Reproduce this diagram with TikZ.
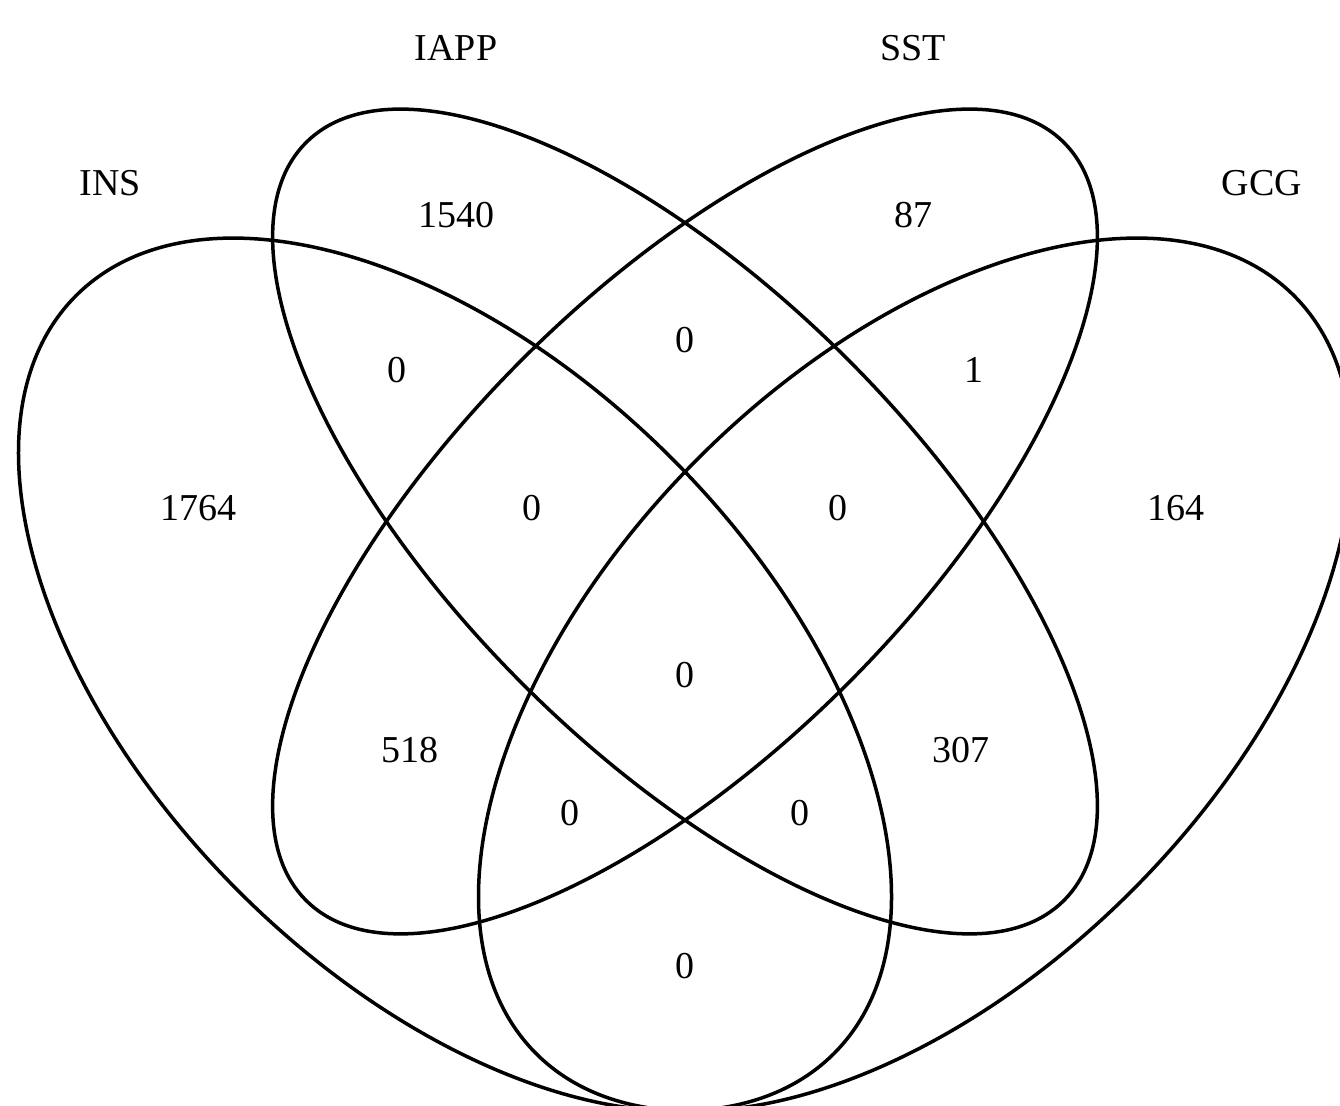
\documentclass[tikz,border=0pt]{standalone}
\usepackage{fontspec}
\setmainfont{Liberation Serif}
\begin{document}
\begin{tikzpicture}[x=1pt,y=1pt,
  setline/.style={line width=3.5pt,black},
  lbl/.style={font=\fontsize{38}{44}\selectfont,inner sep=0pt,anchor=center}]
\useasboundingbox (0,0) rectangle (1340,1105);
\clip (0,0) rectangle (1340,1105);
% centres (tikz y = 1105 - pixel y)
\coordinate (cINS) at (455,430.4);
\coordinate (cIAPP) at (685,583.5);
\coordinate (cSST) at (685,583.5);
\coordinate (cGCG) at (915,430.4);
\draw[setline,rotate around={-45:(cINS)}] (cINS) ellipse [x radius=535.9, y radius=306.2];
\draw[setline,rotate around={-45:(cIAPP)}] (cIAPP) ellipse [x radius=535.9, y radius=229.7];
\draw[setline,rotate around={45:(cSST)}] (cSST) ellipse [x radius=535.9, y radius=229.7];
\draw[setline,rotate around={45:(cGCG)}] (cGCG) ellipse [x radius=535.9, y radius=306.2];
% category labels
\node[lbl] (tINS) at (110,922) {INS};
\node[lbl] (tIAPP) at (456,1057) {IAPP};
\node[lbl] (tSST) at (913,1057) {SST};
\node[lbl] (tGCG) at (1262,922) {GCG};
% region counts
\node[lbl] (a1) at (456,890) {1540};
\node[lbl] (a2) at (685,765) {0};
\node[lbl] (a3) at (913,890) {87};
\node[lbl] (a4) at (198,597) {1764};
\node[lbl] (a5) at (397,735) {0};
\node[lbl] (a6) at (532,597) {0};
\node[lbl] (a7) at (685,430) {0};
\node[lbl] (a8) at (838,597) {0};
\node[lbl] (a9) at (974,735) {1};
\node[lbl] (a10) at (1176,597) {164};
\node[lbl] (a11) at (410,355) {518};
\node[lbl] (a12) at (570,292) {0};
\node[lbl] (a13) at (685,139) {0};
\node[lbl] (a14) at (800,292) {0};
\node[lbl] (a15) at (961,355) {307};
\end{tikzpicture}
\end{document}
